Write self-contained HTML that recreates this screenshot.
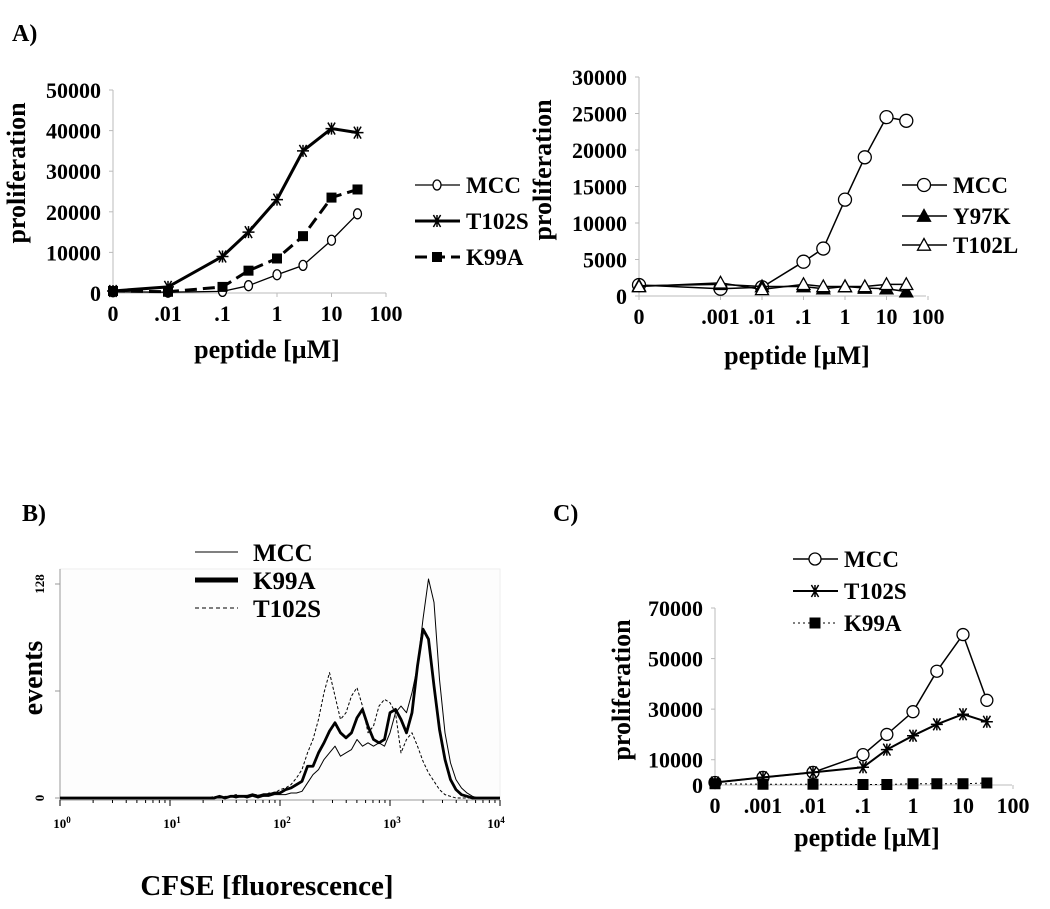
<!DOCTYPE html>
<html><head><meta charset="utf-8">
<style>
html,body{margin:0;padding:0;background:#fff;}
svg{display:block;font-family:"Liberation Serif",serif;font-weight:bold;}
</style></head>
<body>
<svg id="fig" width="1050" height="909" viewBox="0 0 1050 909" xmlns="http://www.w3.org/2000/svg">
<text x="12" y="41" font-size="24">A)</text>
<text x="22" y="521" font-size="24">B)</text>
<text x="553" y="521" font-size="24">C)</text>
<g id="gA1"></g>
<g id="gA2"></g>
<g id="gB"></g>
<g id="gC"></g>
</svg>
<script>
// ---- Panel A left ----
const a1Doses = [0, 0.01, 0.1, 0.3, 1, 3, 10, 30];
const a1MCC = [300, 200, 400, 1800, 4500, 6800, 13000, 19500];
const a1T102S = [500, 1500, 9000, 15000, 23000, 35000, 40500, 39500];
const a1K99A = [500, 300, 1500, 5500, 8500, 14000, 23500, 25500];
const a1YTicks = [0, 10000, 20000, 30000, 40000, 50000];
const a1XTicks = [0, 0.01, 0.1, 1, 10, 100];
const a1XLabels = ["0", ".01", ".1", "1", "10", "100"];
// ---- Panel A right ----
const a2Doses = [0, 0.001, 0.01, 0.1, 0.3, 1, 3, 10, 30];
const a2MCC = [1500, 1000, 1200, 4700, 6500, 13200, 19000, 24500, 24000];
const a2Y97K = [1400, 1600, 1300, 1300, 1000, 1300, 1100, 1000, 600];
const a2T102L = [1300, 1800, 900, 1600, 1300, 1300, 1300, 1600, 1600];
const a2YTicks = [0, 5000, 10000, 15000, 20000, 25000, 30000];
const a2XTicks = [0, 0.001, 0.01, 0.1, 1, 10, 100];
const a2XLabels = ["0", ".001", ".01", ".1", "1", "10", "100"];
// ---- Panel C ----
const cDoses = [0, 0.001, 0.01, 0.1, 0.3, 1, 3, 10, 30];
const cMCC = [1000, 3000, 5000, 12000, 20000, 29000, 45000, 59500, 33500];
const cT102S = [1000, 3000, 5000, 7000, 14000, 19500, 24000, 28000, 25000];
const cK99A = [500, 300, 300, 200, 200, 500, 500, 500, 800];
const cYTicks = [0, 10000, 30000, 50000, 70000];
const cXTicks = [0, 0.001, 0.01, 0.1, 1, 10, 100];
const cXLabels = ["0", ".001", ".01", ".1", "1", "10", "100"];
// ---- Panel B histogram (log10 fluorescence bins 1.3..3.9 step .05) ----
const bStart = 1.3, bStep = 0.05;
const bMCC = [0,0,0,0,0,1,0,1,0,1,0,1,1,2, 2,2,3,3,4,9,14,17,23,27,31,25,27,29,35,31,33,31,33,31,39,51,55,51,63,79,107,131,117,71,39,21,11,6,3,1,0,0,0];
const bK99A = [0,0,0,1,0,1,1,1,1,2,1,2,2,3, 3,5,6,8,10,19,19,27,33,40,45,39,36,39,48,53,43,35,33,35,51,53,47,39,51,79,101,95,67,41,23,11,5,2,1,0,0,0,0];
const bT102S = [0,0,1,0,1,1,2,1,1,2,2,1,3,3, 5,6,8,12,17,27,35,47,63,75,61,47,51,61,66,55,39,43,55,59,57,51,27,35,39,31,22,15,10,5,2,1,0,0,0,0,0,0,0];
const bXTicks = [0, 1, 2, 3, 4];
const bYTicks = [0, 64, 128];
const bYLabels = ["0", "", "128"];

const NS = "http://www.w3.org/2000/svg";
function mk(parent, tag, attrs, txt) {
  const e = document.createElementNS(NS, tag);
  for (const k in attrs) e.setAttribute(k, attrs[k]);
  if (txt !== undefined) e.textContent = txt;
  parent.appendChild(e);
  return e;
}
function logScale(px1, decade, zeroPos) {
  return v => v <= 0 ? zeroPos : px1 + Math.log10(v) * decade;
}
function linScale(y0, yTop, vmax) { return v => y0 - (v / vmax) * (y0 - yTop); }

function marker(g, type, x, y, s, name) {
  let e;
  if (type === "circle") {
    e = mk(g, "ellipse", {cx: x, cy: y, rx: s * 0.8, ry: s, fill: "#fff", stroke: "#000", "stroke-width": 1.3});
  } else if (type === "circleR") {
    e = mk(g, "circle", {cx: x, cy: y, r: s, fill: "#fff", stroke: "#000", "stroke-width": 1.3});
  } else if (type === "square") {
    e = mk(g, "rect", {x: x - s, y: y - s, width: 2 * s, height: 2 * s, fill: "#000"});
  } else if (type === "triF" || type === "triO") {
    e = mk(g, "polygon", {points: `${x},${y - s} ${x - s},${y + s * 0.8} ${x + s},${y + s * 0.8}`, fill: type === "triF" ? "#000" : "#fff", stroke: "#000", "stroke-width": 1.3});
  } else if (type === "star") {
    const d = `M${x - s},${y}H${x + s}M${x - s * 0.6},${y - s}L${x + s * 0.6},${y + s}M${x + s * 0.6},${y - s}L${x - s * 0.6},${y + s}M${x},${y - s}V${y + s}`;
    e = mk(g, "path", {d: d, stroke: "#000", "stroke-width": 1.5, fill: "none"});
  }
  
  
}

function lineChart(g, cfg) {
  const X = cfg.x, Y = cfg.y;
  // axes
  const ax = mk(g, "path", {d: `M${cfg.ax0},${cfg.yTop}V${cfg.y0}H${cfg.axEnd}`, stroke: "#bbb", "stroke-width": 1, fill: "none"});
  
  
  cfg.yTicks.forEach(t => {
    const tl = mk(g, "text", {x: cfg.ax0 - 12, y: Y(t) + 8, "font-size": cfg.fs, "text-anchor": "end"}, String(t));
    
    
    const tk = mk(g, "line", {x1: cfg.ax0 - 4, x2: cfg.ax0, y1: Y(t), y2: Y(t), stroke: "#bbb"});
    
    
  });
  cfg.xTicks.forEach((t, i) => {
    const tl = mk(g, "text", {x: X(t), y: cfg.y0 + 28, "font-size": cfg.fs, "text-anchor": "middle"}, cfg.xLabels[i]);
    
    
    const tk = mk(g, "line", {x1: X(t), x2: X(t), y1: cfg.y0, y2: cfg.y0 + 4, stroke: "#bbb"});
    
    
  });
  const yt = mk(g, "text", {x: 0, y: 0, "font-size": cfg.tfs, "text-anchor": "middle", transform: `translate(${cfg.yTitleX},${cfg.yTitleY}) rotate(-90)`}, "proliferation");
  
  
  const xt = mk(g, "text", {x: cfg.xTitleX, y: cfg.xTitleY, "font-size": cfg.tfs, "text-anchor": "middle"}, "peptide [\u00B5M]");
  
  
  cfg.series.forEach((s, si) => {
    const pts = s.vals.map((v, i) => `${X(cfg.doses[i])},${Y(v)}`).join(" ");
    const pl = mk(g, "polyline", {points: pts, fill: "none", stroke: "#000", "stroke-width": s.w, "stroke-dasharray": s.dash || "none"});
    
    
    s.vals.forEach((v, i) => marker(g, s.m, X(cfg.doses[i]), Y(v), s.ms, 'point-' + s.name.toLowerCase()));
    const ly = cfg.legY[si];
    const ll = mk(g, "line", {x1: cfg.legX, x2: cfg.legX + 45, y1: ly, y2: ly, stroke: "#000", "stroke-width": s.w, "stroke-dasharray": s.dash || "none"});
    
    
    marker(g, s.m, cfg.legX + 22, ly, s.ms, 'legend-marker-' + s.name.toLowerCase());
    const lt = mk(g, "text", {x: cfg.legX + 51, y: ly + 8, "font-size": cfg.lfs}, s.name);
    
    
  });
}

lineChart(document.getElementById("gA1"), {
  x: logScale(277, 54.5, 113), y: linScale(293, 90, 50000),
  ax0: 113, axEnd: 386, y0: 293, yTop: 90,
  yTicks: a1YTicks, xTicks: a1XTicks, xLabels: a1XLabels, doses: a1Doses,
  fs: 22, tfs: 26, lfs: 23, yTitleX: 25, yTitleY: 173, xTitleX: 267, xTitleY: 358,
  legX: 415, legY: [185, 221, 257],
  series: [
    {name: "MCC", vals: a1MCC, m: "circle", ms: 5, w: 1.3},
    {name: "T102S", vals: a1T102S, m: "star", ms: 6, w: 3},
    {name: "K99A", vals: a1K99A, m: "square", ms: 5, w: 3, dash: "12,6"}
  ]
});
lineChart(document.getElementById("gA2"), {
  x: logScale(845, 41.5, 639), y: linScale(296, 77, 30000),
  ax0: 639, axEnd: 926, y0: 296, yTop: 77,
  yTicks: a2YTicks, xTicks: a2XTicks, xLabels: a2XLabels, doses: a2Doses,
  fs: 22, tfs: 26, lfs: 23, yTitleX: 551, yTitleY: 170, xTitleX: 797, xTitleY: 364,
  legX: 902, legY: [185, 216, 245],
  series: [
    {name: "MCC", vals: a2MCC, m: "circleR", ms: 6.5, w: 1.5},
    {name: "Y97K", vals: a2Y97K, m: "triF", ms: 6.5, w: 1.5},
    {name: "T102L", vals: a2T102L, m: "triO", ms: 6.5, w: 1.5}
  ]
});
lineChart(document.getElementById("gC"), {
  x: logScale(913, 50, 715), y: linScale(785, 608, 70000),
  ax0: 715, axEnd: 1012, y0: 785, yTop: 608,
  yTicks: cYTicks, xTicks: cXTicks, xLabels: cXLabels, doses: cDoses,
  fs: 22, tfs: 26, lfs: 23, yTitleX: 630, yTitleY: 690, xTitleX: 867, xTitleY: 846,
  legX: 793, legY: [559, 591, 623],
  series: [
    {name: "MCC", vals: cMCC, m: "circleR", ms: 6, w: 1.5},
    {name: "T102S", vals: cT102S, m: "star", ms: 6, w: 2},
    {name: "K99A", vals: cK99A, m: "square", ms: 5.5, w: 1, dash: "2,3"}
  ]
});
// Panel C legend K99A line should look dashed thick
// ---- Panel B ----
(function () {
  const g = document.getElementById("gB");
  const X = L => 60 + L * 110;
  const Y = c => 798 - c * (214 / 128);
  const fr = mk(g, "rect", {x: 60, y: 569, width: 440, height: 231, fill: "#fdfdfd", stroke: "#eee"});
  
  
  const ax = mk(g, "path", {d: "M60,569V800H500", stroke: "#999", fill: "none"});
  
  
  for (let d = 0; d < 4; d++) for (let k = 1; k <= 10; k++) {
    const x = X(d + Math.log10(k));
    const t = mk(g, "line", {x1: x, x2: x, y1: 800, y2: k === 1 || k === 10 ? 806 : 803, stroke: "#000"});
    
    
  }
  bXTicks.forEach(t => {
    const tl = mk(g, "text", {x: X(t) + (t === 4 ? -4 : 2), y: 828, "font-size": 13, "text-anchor": "middle"});
    
    
    mk(tl, "tspan", {}, "10");
    mk(tl, "tspan", {dy: -5, "font-size": 9}, String(t));
  });
  bYTicks.forEach((t, i) => {
    const tk = mk(g, "line", {x1: 55, x2: 60, y1: Y(t), y2: Y(t), stroke: "#999"});
    
    
    if (bYLabels[i]) {
      const tl = mk(g, "text", {x: 0, y: 0, "font-size": 13, "text-anchor": "middle", transform: `translate(44,${Y(t)}) rotate(-90)`}, bYLabels[i]);
      
      
    }
  });
  const yt = mk(g, "text", {x: 0, y: 0, "font-size": 28, "text-anchor": "middle", transform: "translate(42,678) rotate(-90)"}, "events");
  
  
  const xt = mk(g, "text", {x: 267, y: 895, "font-size": 29, "text-anchor": "middle"}, "CFSE [fluorescence]");
  
  
  function hist(vals, w, dash, name) {
    let pts = [`${X(0)},${Y(0)}`, `${X(bStart)},${Y(0)}`];
    vals.forEach((c, i) => pts.push(`${X(bStart + i * bStep)},${Y(c)}`));
    pts.push(`${X(4)},${Y(0)}`);
    const p = mk(g, "polyline", {points: pts.join(" "), fill: "none", stroke: "#000", "stroke-width": w, "stroke-dasharray": dash || "none", "stroke-linejoin": "round"});
    
    
  }
  hist(bMCC, 1, null, "mcc");
  hist(bT102S, 1, "3,2", "t102s");
  hist(bK99A, 2.8, null, "k99a");
  const leg = [["MCC", 1, null], ["K99A", 5, null], ["T102S", 1, "4,3"]];
  const ly = [552, 580, 608];
  leg.forEach((l, i) => {
    const ll = mk(g, "line", {x1: 195, x2: 238, y1: ly[i], y2: ly[i], stroke: "#000", "stroke-width": l[1], "stroke-dasharray": l[2] || "none"});
    
    
    const lt = mk(g, "text", {x: 253, y: ly[i] + 9, "font-size": 25}, l[0]);
    
    
  });
})();
</script>
</body></html>
